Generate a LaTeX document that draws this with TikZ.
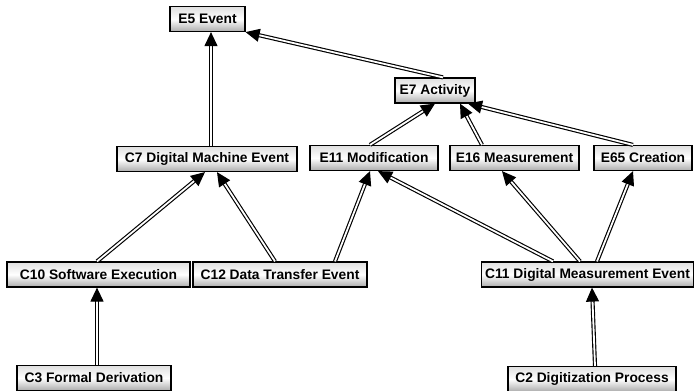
\documentclass[tikz,border=0pt]{standalone}
\usepackage{fontspec}
\setmainfont{Liberation Sans}
\usetikzlibrary{arrows.meta}

\tikzset{
  cls/.style={draw=black, line width=1.2pt, top color=gray!25, bottom color=gray!65, middle color=white,
    font=\fontsize{13.8}{16}\selectfont\bfseries, inner xsep=4pt, minimum height=25pt},
  isa/.style={draw=black, double=white, double distance=1.8pt, line width=1.15pt,
    -{Triangle[length=14pt,width=13pt]}}
}

\begin{document}
\begin{tikzpicture}[x=1pt,y=-1pt]
    \useasboundingbox (0,0) rectangle (694,391);

    % Top level
    \node[cls, minimum width=75pt] (e5) at (207.5,19) {E5 Event};
    \node[cls, minimum width=80pt] (e7) at (435,90.5) {E7 Activity};

    % Middle row
    \node[cls, minimum width=180pt] (c7) at (207,159) {C7 Digital Machine Event};
    \node[cls, minimum width=128pt] (e11) at (374,158) {E11 Modification};
    \node[cls, minimum width=129pt] (e16) at (514.5,158) {E16 Measurement};
    \node[cls, minimum width=98pt] (e65) at (643,158) {E65 Creation};

    % Lower row
    \node[cls, minimum width=183pt] (c10) at (98.5,274.5) {C10 Software Execution};
    \node[cls, minimum width=174pt] (c12) at (280,274.5) {C12 Data Transfer Event};
    \node[cls, minimum width=211pt] (c11) at (587.5,274.5) {C11 Digital Measurement Event};

    % Bottom row
    \node[cls, minimum width=154pt] (c3) at (94,378) {C3 Formal Derivation};
    \node[cls, minimum width=168pt] (c2) at (592,379) {C2 Digitization Process};

    % Links
    \draw[isa] ([xshift=4pt]c7.north) -- ([xshift=3.5pt]e5.south);
    \draw[isa] ([xshift=8pt]e7.north) -- (e5.south east);
    \draw[isa] ([xshift=-4pt]e11.north) -- (e7.south);
    \draw[isa] ([xshift=-10pt]e65.north) -- ([xshift=33pt]e7.south);
    \draw[isa] ([xshift=-32.5pt]e16.north) -- ([xshift=25pt]e7.south);
    \draw[isa] ([xshift=-1.5pt]c10.north) -- ([xshift=-2pt]c7.south);
    \draw[isa] ([xshift=-5pt]c12.north) -- ([xshift=10pt]c7.south);
    \draw[isa] ([xshift=55pt]c12.north) -- ([xshift=-4pt]e11.south);
    \draw[isa] ([xshift=-34.5pt]c11.north) -- ([xshift=4pt]e11.south);
    \draw[isa] ([xshift=-7.5pt]c11.north) -- ([xshift=-12.5pt]e16.south);
    \draw[isa] ([xshift=9.5pt]c11.north) -- ([xshift=-10pt]e65.south);
    \draw[isa] ([xshift=3pt]c3.north) -- ([xshift=-1.5pt]c10.south);
    \draw[isa] ([xshift=3pt]c2.north) -- ([xshift=4.5pt]c11.south);
\end{tikzpicture}
\end{document}
